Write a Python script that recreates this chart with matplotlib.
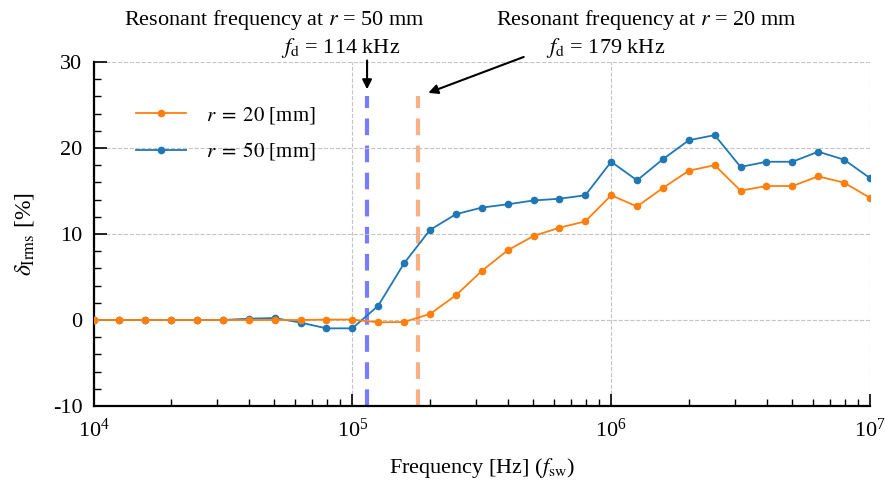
import numpy as np
import matplotlib
matplotlib.use("Agg")
import matplotlib.pyplot as plt
from matplotlib.ticker import MultipleLocator, LogLocator, NullFormatter

plt.rcParams['font.family'] = ['Liberation Serif', 'DejaVu Serif']
plt.rcParams['mathtext.fontset'] = 'stix'
plt.rcParams['font.size'] = 15

# switching frequency sweep, 10 points per decade
freq = 10 ** (4 + np.arange(31) / 10)

d_r20 = [0, 0, 0, 0, 0, 0, 0, 0, 0, 0.05, 0.05,
         -0.27, -0.23, 0.7, 2.87, 5.7, 8.1, 9.77, 10.73, 11.47, 14.5,
         13.2, 15.35, 17.36, 18.0, 15.04, 15.58, 15.58, 16.7, 15.97, 14.2]
d_r50 = [0, 0, 0, 0, 0, 0, 0.15, 0.23, -0.3, -0.97, -0.97,
         1.66, 6.6, 10.47, 12.3, 13.07, 13.45, 13.9, 14.1, 14.5, 18.4,
         16.24, 18.7, 20.9, 21.5, 17.8, 18.4, 18.4, 19.57, 18.64, 16.5]

fd_r50 = 114e3
fd_r20 = 179e3

fig = plt.figure(figsize=(8.85, 4.82), dpi=100)
ax = fig.add_axes([93.5 / 885, 76 / 482, (870 - 93.5) / 885, 344 / 482])

ax.vlines(fd_r50, -10, 26, colors='#7b7bff', linestyles=(0, (4, 2.5)), linewidth=3, zorder=1)
ax.vlines(fd_r20, -10, 26, colors='#f9b083', linestyles=(0, (4, 2.5)), linewidth=3, zorder=1)

l50, = ax.plot(freq, d_r50, '-o', color='#1f77b4', lw=1.3, ms=4.5, label=r'$r\;=\;50$ [mm]', zorder=3)
l20, = ax.plot(freq, d_r20, '-o', color='#ff7f0e', lw=1.3, ms=4.5, label=r'$r\;=\;20$ [mm]', zorder=4)

ax.set_xscale('log')
ax.set_xlim(1e4, 1e7)
ax.set_ylim(-10, 30)
ax.set_yticks([-10, 0, 10, 20, 30], ['-10', '0', '10', '20', '30'])
ax.yaxis.set_minor_locator(MultipleLocator(2))
ax.xaxis.set_minor_locator(LogLocator(base=10, subs=np.arange(2, 10)))
ax.xaxis.set_minor_formatter(NullFormatter())

ax.grid(True, which='major', ls='--', color='#c4c4c4', lw=0.8)
for s in ['top', 'right']:
    ax.spines[s].set_visible(False)
for s in ['left', 'bottom']:
    ax.spines[s].set_linewidth(1.6)
ax.tick_params(which='both', direction='in', labelsize=16)
ax.tick_params(which='major', length=9, width=1.2)
ax.tick_params(which='minor', length=5, width=1.0)
ax.tick_params(axis='y', pad=8)
ax.tick_params(axis='x', pad=9)

ax.set_xlabel(r'Frequency [Hz] ($f_\mathrm{sw}$)', fontsize=16, labelpad=10)
ax.set_ylabel(r'$\delta_\mathrm{Irms}$ [%]', fontsize=17, labelpad=12)

ax.legend(handles=[l20, l50], loc='upper left', bbox_to_anchor=(0.03, 0.93),
          frameon=False, fontsize=15, handlelength=2.4, handletextpad=1.0, labelspacing=0.7)

ax.annotate('', xy=(fd_r50, 26.5), xytext=(fd_r50, 30.5), annotation_clip=False,
            arrowprops=dict(arrowstyle='-|>', color='black', lw=1.5, mutation_scale=14))
ax.annotate('', xy=(1.92e5, 26.3), xytext=(4.7e5, 30.7), annotation_clip=False,
            arrowprops=dict(arrowstyle='-|>', color='black', lw=1.5, mutation_scale=14))

fig.text(274 / 885, 1 - 20 / 482, r'Resonant frequency at $r$ = 50 mm', ha='center', va='center', fontsize=16)
fig.text(400 / 885, 1 - 48 / 482, r'$f_\mathrm{d}$ = 114 kHz', ha='right', va='center', fontsize=16)
fig.text(646 / 885, 1 - 20 / 482, r'Resonant frequency at $r$ = 20 mm', ha='center', va='center', fontsize=16)
fig.text(606 / 885, 1 - 48 / 482, r'$f_\mathrm{d}$ = 179 kHz', ha='center', va='center', fontsize=16)

fig.savefig('out.png', dpi=100)
